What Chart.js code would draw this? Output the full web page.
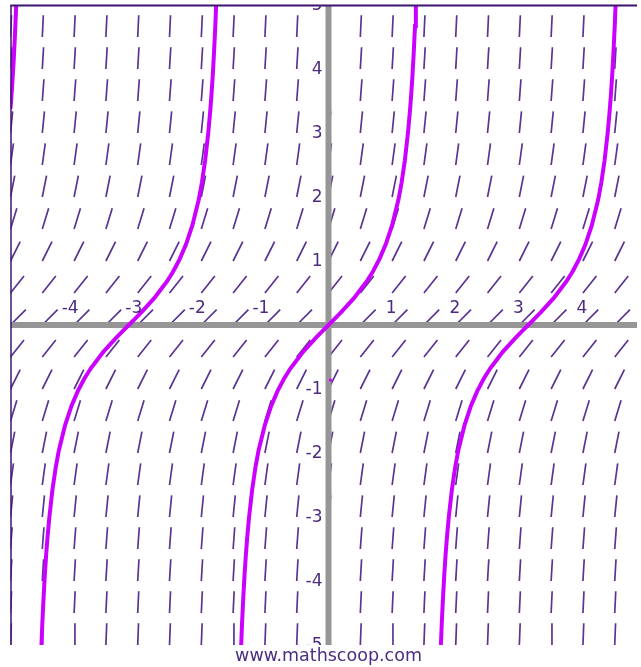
<!DOCTYPE html>
<html>
<head>
<meta charset="utf-8">
<script src="https://cdn.jsdelivr.net/npm/chart.js@4"></script>
<style>
html,body{margin:0;padding:0;background:#ffffff;overflow:hidden}
#wrap{width:641px;height:667px;position:relative}
canvas{display:block}
</style>
</head>
<body>
<div id="wrap"><canvas id="c" width="641" height="667" style="width:641px;height:667px"></canvas></div>
<script>
// ---- axis ranges and tick labels ----
const xMin = -5, xMax = 4.85, yMin = -5, yMax = 5;
const xTicks = [-4, -3, -2, -1, 1, 2, 3, 4];
const yTicks = [-5, -4, -3, -2, -1, 1, 2, 3, 4, 5];
const footerText = 'www.mathscoop.com';

// ---- slope field grid ----
const fieldCols = [-5, -4.5, -4, -3.5, -3, -2.5, -2, -1.5, -1, -0.5, 0, 0.5, 1, 1.5, 2, 2.5, 3, 3.5, 4, 4.5];
const fieldRows = [-5, -4.5, -4, -3.5, -3, -2.5, -2, -1.5, -1, -0.5, 0, 0.5, 1, 1.5, 2, 2.5, 3, 3.5, 4, 4.5, 5];
const fieldSlopes = [26, 21.25, 17, 13.25, 10, 7.25, 5, 3.25, 2, 1.25, 1, 1.25, 2, 3.25, 5, 7.25, 10, 13.25, 17, 21.25, 26];

// ---- solution curve branches ----
const tailX = [-5, -4.99, -4.97, -4.95, -4.93, -4.91];
const tailY = [3.38, 3.51, 3.8, 4.13, 4.53, 5];
const branchY = [-5, -4.67, -4.26, -3.9, -3.6, -3.34, -3.01, -2.57, -2.23, -1.96, -1.56, -1.26, -1.03, -0.84, -0.68, -0.55, -0.42, -0.31, -0.2, -0.1, 0, 0.1, 0.2, 0.31, 0.42, 0.55, 0.68, 0.84, 1.03, 1.26, 1.56, 1.96, 2.23, 2.57, 3.01, 3.34, 3.6, 3.9, 4.26, 4.67, 5];
const leftX = [-4.513, -4.5, -4.48, -4.46, -4.44, -4.42, -4.39, -4.34, -4.29, -4.24, -4.14, -4.04, -3.94, -3.84, -3.74, -3.64, -3.54, -3.44, -3.34, -3.24, -3.14, -3.04, -2.94, -2.84, -2.74, -2.64, -2.54, -2.44, -2.34, -2.24, -2.14, -2.04, -1.99, -1.94, -1.89, -1.86, -1.84, -1.82, -1.8, -1.78, -1.767];
const midX = [-1.373, -1.36, -1.34, -1.32, -1.3, -1.28, -1.25, -1.2, -1.15, -1.1, -1, -0.9, -0.8, -0.7, -0.6, -0.5, -0.4, -0.3, -0.2, -0.1, 0, 0.1, 0.2, 0.3, 0.4, 0.5, 0.6, 0.7, 0.8, 0.9, 1, 1.1, 1.15, 1.2, 1.25, 1.28, 1.3, 1.32, 1.34, 1.36, 1.373];
const rightX = [1.767, 1.78, 1.8, 1.82, 1.84, 1.86, 1.89, 1.94, 1.99, 2.04, 2.14, 2.24, 2.34, 2.44, 2.54, 2.64, 2.74, 2.84, 2.94, 3.04, 3.14, 3.24, 3.34, 3.44, 3.54, 3.64, 3.74, 3.84, 3.94, 4.04, 4.14, 4.24, 4.29, 4.34, 4.39, 4.42, 4.44, 4.46, 4.48, 4.5, 4.513];
const dotX = [0.03];
const dotY = [-0.86];

// ---- build library data ----
const segLen = 0.34;
const fieldData = [];
fieldRows.forEach((y0, i) => {
  const m = fieldSlopes[i];
  const dx = segLen / Math.sqrt(1 + m * m);
  fieldCols.forEach(x0 => {
    fieldData.push({x: x0, y: y0}, {x: x0 + dx, y: y0 + m * dx}, {x: x0 + dx, y: null});
  });
});
const zip = (xs, ys) => xs.map((x, i) => ({x: x, y: ys[i]}));

const PURPLE = '#4b2d7f';
const MAGENTA = '#cc00ff';
const curveStyle = {showLine: true, borderColor: MAGENTA, borderWidth: 4, pointRadius: 0, order: 1, spanGaps: false};

const overlay = {
  id: 'overlay',
  afterDatasetsDraw(chart) {
    const {ctx, chartArea: a, scales: {x, y}} = chart;
    const x0 = x.getPixelForValue(0), y0 = y.getPixelForValue(0);
    ctx.save();
    // footer text
    ctx.fillStyle = PURPLE;
    ctx.font = '17.5px "DejaVu Sans"';
    ctx.textAlign = 'center';
    ctx.textBaseline = 'middle';
    ctx.fillText(footerText, x0, a.bottom + 11);
    // frame lines (top and left)
    ctx.strokeStyle = '#3d1470';
    ctx.lineWidth = 2;
    ctx.beginPath();
    ctx.moveTo(a.left, a.top + 0.5); ctx.lineTo(a.right, a.top + 0.5);
    ctx.stroke();
    ctx.lineWidth = 1.5;
    ctx.beginPath();
    ctx.moveTo(a.left + 0.5, a.top); ctx.lineTo(a.left + 0.5, a.bottom);
    ctx.stroke();
    // tick labels, clipped to the plot
    ctx.beginPath();
    ctx.rect(a.left, a.top, a.right - a.left, a.bottom - a.top);
    ctx.clip();
    ctx.font = '17px "DejaVu Sans"';
    ctx.textAlign = 'right';
    ctx.textBaseline = 'alphabetic';
    xTicks.forEach(v => ctx.fillText(String(v), x.getPixelForValue(v) + 4.5, y0 - 12));
    ctx.textBaseline = 'middle';
    yTicks.forEach(v => ctx.fillText(String(v), x0 - 6, y.getPixelForValue(v) + 1));
    ctx.restore();
  }
};

new Chart(document.getElementById('c'), {
  type: 'scatter',
  data: {
    datasets: [
      {data: zip(dotX, dotY), showLine: false, pointRadius: 1.6, pointBackgroundColor: MAGENTA, pointBorderWidth: 0, order: 0},
      Object.assign({data: zip(tailX, tailY)}, curveStyle),
      Object.assign({data: zip(leftX, branchY)}, curveStyle),
      Object.assign({data: zip(midX, branchY)}, curveStyle),
      Object.assign({data: zip(rightX, branchY)}, curveStyle),
      {data: [{x: xMin, y: 0}, {x: xMax, y: 0}], showLine: true, borderColor: '#969696', borderWidth: 6, pointRadius: 0, order: 2},
      {data: [{x: 0, y: yMin}, {x: 0, y: yMax}], showLine: true, borderColor: '#969696', borderWidth: 6, pointRadius: 0, order: 2},
      {data: fieldData, showLine: true, spanGaps: false, borderColor: '#5a3490', borderWidth: 1.7, pointRadius: 0, order: 3}
    ]
  },
  options: {
    responsive: false,
    animation: false,
    events: [],
    layout: {padding: {left: 10.5, top: 5, right: 0, bottom: 22}},
    scales: {
      x: {type: 'linear', min: xMin, max: xMax, display: false},
      y: {type: 'linear', min: yMin, max: yMax, display: false}
    },
    plugins: {
      legend: {display: false},
      tooltip: {enabled: false},
      title: {display: false}
    }
  },
  plugins: [overlay]
});
</script>
</body>
</html>
